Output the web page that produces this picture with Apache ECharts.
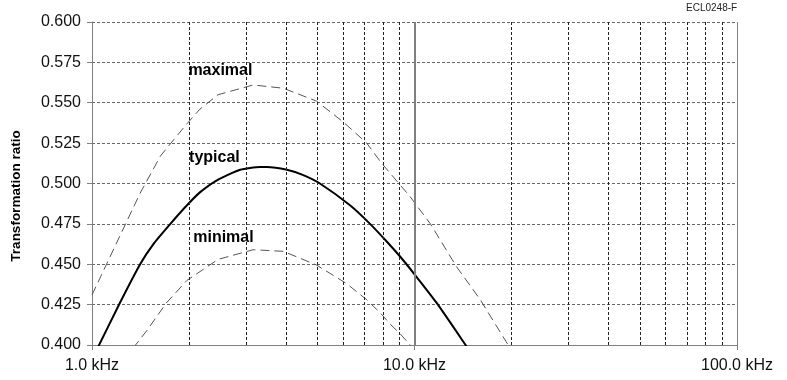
<!DOCTYPE html>
<html>
<head>
<meta charset="utf-8">
<script src="https://cdn.jsdelivr.net/npm/echarts@6/dist/echarts.min.js"></script>
<style>html,body{margin:0;padding:0;background:#fff}#c{width:787px;height:380px}</style>
</head>
<body>
<div id="c"></div>
<script>
// Frequencies in kHz, transformation ratio values
const typicalFreq = [1.04, 1.22, 1.41, 1.55, 1.75, 1.97, 2.16, 2.44, 2.88, 3.32, 3.48, 4.02, 4.52, 5.09, 6.31, 7.28, 8.20, 9.02, 10.0, 11.7, 14.4, 14.6];
const typicalVal  = [0.398, 0.426, 0.450, 0.4625, 0.475, 0.4865, 0.4945, 0.502, 0.5085, 0.5102, 0.5102, 0.5085, 0.5052, 0.5000, 0.4865, 0.475, 0.4641, 0.4548, 0.4438, 0.4262, 0.400, 0.398];

const maximalFreq = [1.0, 1.41, 1.63, 1.79, 1.97, 2.16, 2.46, 3.16, 3.92, 4.97, 6.02, 7.11, 7.91, 8.6, 9.68, 11.2, 13.5, 16.0, 19.8];
const maximalVal  = [0.431, 0.494, 0.517, 0.527, 0.537, 0.546, 0.555, 0.561, 0.559, 0.551, 0.538, 0.525, 0.5125, 0.504, 0.492, 0.475, 0.4485, 0.428, 0.398];

const minimalFreq = [1.34, 1.48, 1.70, 1.97, 2.46, 3.16, 3.92, 4.97, 6.16, 7.11, 7.82, 8.40, 9.02, 9.9];
const minimalVal  = [0.398, 0.409, 0.426, 0.440, 0.453, 0.459, 0.458, 0.4495, 0.438, 0.428, 0.420, 0.413, 0.407, 0.398];

const minorGridFreq = [2, 3, 4, 5, 6, 7, 8, 9, 20, 30, 40, 50, 60, 70, 80, 90];
const xTickLabels = {1: '1.0 kHz', 10: '10.0 kHz', 100: '100.0 kHz'};

const seriesLabels = [
  {name: 'maximal', coord: [1.99, 0.570]},
  {name: 'typical', coord: [2.0, 0.516]},
  {name: 'minimal', coord: [2.06, 0.4664]}
];

const zip = (a, b) => a.map((v, i) => [v, b[i]]);

const chart = echarts.init(document.getElementById('c'), null, {renderer: 'canvas'});
const FONT = 'Liberation Sans, Arial, sans-serif';

chart.setOption({
  animation: false,
  backgroundColor: '#fff',
  grid: {left: 92, right: 50, top: 22, bottom: 35, containLabel: false},
  xAxis: {
    type: 'log', logBase: 10, min: 1, max: 100,
    axisLine: {show: true, lineStyle: {color: '#808080', width: 1}},
    axisTick: {show: true, length: 5, lineStyle: {color: '#808080'}},
    splitLine: {show: false},
    axisLabel: {
      margin: 13, color: '#111', fontSize: 16, fontFamily: FONT,
      formatter: v => xTickLabels[Math.round(v)] || ''
    }
  },
  yAxis: {
    type: 'value', min: 0.4, max: 0.6, interval: 0.025,
    axisLine: {show: true, lineStyle: {color: '#808080', width: 1}},
    axisTick: {show: true, length: 5, lineStyle: {color: '#808080'}},
    splitLine: {show: true, lineStyle: {color: '#666', width: 1, type: [3, 2]}},
    axisLabel: {
      margin: 11, color: '#111', fontSize: 16, fontFamily: FONT,
      formatter: v => v.toFixed(3)
    }
  },
  graphic: [
    {type: 'text', left: 686, top: 3, style: {text: 'ECL0248-F', font: '10px ' + FONT, fill: '#222'}},
    {type: 'text', x: 16, y: 196, rotation: Math.PI / 2,
     style: {text: 'Transformation ratio', font: 'bold 13.5px ' + FONT, fill: '#000', align: 'center', verticalAlign: 'middle'}}
  ],
  series: [
    {
      name: 'grid', type: 'line', data: [], silent: true,
      markLine: {
        silent: true, symbol: 'none', label: {show: false},
        data: minorGridFreq.map(f => ({xAxis: f, lineStyle: {color: '#222', width: 1, type: [3, 2]}}))
          .concat([
            {xAxis: 10, lineStyle: {color: '#808080', width: 2, type: 'solid'}},
            {xAxis: 100, lineStyle: {color: '#808080', width: 1, type: 'solid'}}
          ])
      }
    },
    {
      name: 'maximal', type: 'line', data: zip(maximalFreq, maximalVal), showSymbol: false, clip: true,
      lineStyle: {color: '#555', width: 1, type: [9, 5]}
    },
    {
      name: 'typical', type: 'line', data: zip(typicalFreq, typicalVal), showSymbol: false, clip: true,
      smooth: 0.2,
      lineStyle: {color: '#000', width: 2},
      markPoint: {
        symbol: 'circle', symbolSize: 0, silent: true,
        label: {show: true, position: 'right', distance: 0, fontSize: 16, fontWeight: 'bold', color: '#000', fontFamily: FONT,
                formatter: p => p.name},
        data: seriesLabels.map(l => ({name: l.name, coord: l.coord}))
      }
    },
    {
      name: 'minimal', type: 'line', data: zip(minimalFreq, minimalVal), showSymbol: false, clip: true,
      lineStyle: {color: '#555', width: 1, type: [9, 5]}
    }
  ]
});
</script>
</body>
</html>
